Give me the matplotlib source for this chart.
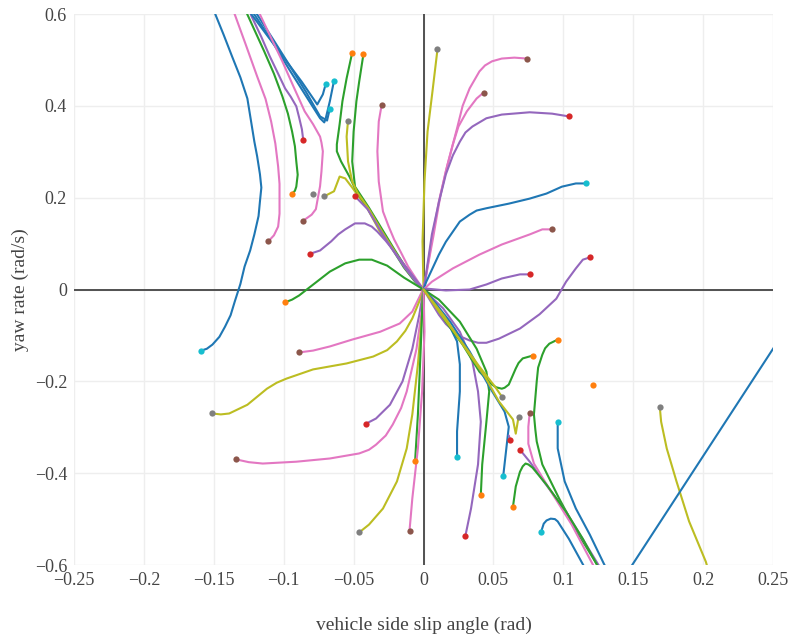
import matplotlib
matplotlib.use("Agg")
import matplotlib.pyplot as plt

# phase portrait: vehicle side slip angle (rad) vs yaw rate (rad/s)
# each trajectory starts at its first point (the marker)

# upper-left
blue_1 = [(-0.159, -0.133), (-0.155, -0.129), (-0.151, -0.120), (-0.146, -0.103), (-0.142, -0.081),
          (-0.138, -0.056), (-0.135, -0.026), (-0.131, 0.012), (-0.128, 0.050), (-0.124, 0.085),
          (-0.121, 0.120), (-0.118, 0.160), (-0.117, 0.192), (-0.116, 0.222), (-0.117, 0.251),
          (-0.119, 0.290), (-0.121, 0.322), (-0.126, 0.416), (-0.131, 0.462), (-0.137, 0.508),
          (-0.143, 0.555), (-0.149, 0.600), (-0.156, 0.650)]
pink_1 = [(-0.111, 0.105), (-0.107, 0.118), (-0.104, 0.137), (-0.103, 0.165), (-0.103, 0.192),
          (-0.103, 0.230), (-0.104, 0.268), (-0.106, 0.318), (-0.109, 0.366), (-0.113, 0.415),
          (-0.119, 0.464), (-0.127, 0.532), (-0.135, 0.599), (-0.140, 0.638)]
green_1 = [(-0.094, 0.209), (-0.092, 0.215), (-0.091, 0.224), (-0.090, 0.250), (-0.091, 0.279),
           (-0.092, 0.312), (-0.094, 0.344), (-0.097, 0.383), (-0.101, 0.421), (-0.107, 0.470),
           (-0.114, 0.519), (-0.126, 0.599), (-0.130, 0.627)]
purple_1 = [(-0.086, 0.325), (-0.087, 0.349), (-0.089, 0.375), (-0.091, 0.399), (-0.095, 0.420),
            (-0.099, 0.438), (-0.104, 0.470), (-0.110, 0.508), (-0.116, 0.550), (-0.123, 0.595),
            (-0.127, 0.627)]
blue_2 = [(-0.070, 0.447), (-0.072, 0.425), (-0.076, 0.403), (-0.087, 0.452), (-0.099, 0.501),
          (-0.111, 0.550), (-0.123, 0.599), (-0.128, 0.621)]
blue_3 = [(-0.064, 0.455), (-0.067, 0.410), (-0.070, 0.372), (-0.071, 0.364), (-0.074, 0.373),
          (-0.085, 0.426), (-0.096, 0.479), (-0.108, 0.539), (-0.121, 0.599), (-0.126, 0.621)]
blue_4 = [(-0.067, 0.394), (-0.069, 0.368), (-0.074, 0.377), (-0.084, 0.430), (-0.095, 0.484),
          (-0.107, 0.542), (-0.119, 0.599), (-0.124, 0.621)]
pink_2 = [(-0.086, 0.150), (-0.080, 0.163), (-0.077, 0.175), (-0.076, 0.192), (-0.074, 0.225),
          (-0.073, 0.257), (-0.072, 0.301), (-0.073, 0.320), (-0.074, 0.333), (-0.079, 0.360),
          (-0.085, 0.388), (-0.093, 0.442), (-0.101, 0.497), (-0.109, 0.548), (-0.117, 0.599),
          (-0.121, 0.621)]
olive_1 = [(-0.071, 0.203), (-0.064, 0.214), (-0.060, 0.246), (-0.056, 0.242), (-0.051, 0.222),
           (-0.040, 0.176), (-0.031, 0.125), (-0.021, 0.084), (-0.013, 0.050), (-0.005, 0.016), (0, 0)]
green_2 = [(-0.051, 0.516), (-0.055, 0.460), (-0.058, 0.410), (-0.060, 0.360), (-0.062, 0.316),
           (-0.062, 0.301), (-0.059, 0.279), (-0.053, 0.246), (-0.048, 0.214), (-0.040, 0.177),
           (-0.031, 0.131), (-0.022, 0.087), (-0.014, 0.048), (-0.006, 0.017), (0, 0)]
green_3 = [(-0.043, 0.512), (-0.046, 0.453), (-0.048, 0.410), (-0.050, 0.344), (-0.051, 0.279),
           (-0.049, 0.224), (-0.039, 0.178), (-0.030, 0.133), (-0.021, 0.088), (-0.013, 0.049),
           (-0.005, 0.018), (0, 0)]
olive_2 = [(-0.054, 0.368), (-0.055, 0.333), (-0.054, 0.279), (-0.051, 0.235), (-0.047, 0.210),
           (-0.039, 0.175), (-0.030, 0.128), (-0.021, 0.085), (-0.013, 0.047), (-0.005, 0.016), (0, 0)]
pink_3 = [(-0.030, 0.401), (-0.032, 0.366), (-0.033, 0.301), (-0.032, 0.235), (-0.029, 0.170),
          (-0.025, 0.138), (-0.021, 0.109), (-0.016, 0.080), (-0.011, 0.050), (-0.005, 0.022), (0, 0)]
purple_2 = [(-0.049, 0.203), (-0.040, 0.175), (-0.031, 0.129), (-0.022, 0.086), (-0.013, 0.046),
            (-0.005, 0.015), (0, 0)]
purple_3 = [(-0.081, 0.078), (-0.074, 0.085), (-0.066, 0.105), (-0.061, 0.120), (-0.056, 0.131),
            (-0.049, 0.144), (-0.042, 0.144), (-0.037, 0.137), (-0.033, 0.126), (-0.027, 0.106),
            (-0.021, 0.083), (-0.010, 0.039), (0, 0)]
green_4 = [(-0.099, -0.028), (-0.094, -0.022), (-0.089, -0.013), (-0.078, 0.013), (-0.067, 0.039),
           (-0.056, 0.057), (-0.046, 0.065), (-0.037, 0.065), (-0.026, 0.052), (-0.014, 0.026), (0, 0)]
olive_3 = [(0.010, 0.523), (0.0064, 0.431), (0.0029, 0.344), (0.0007, 0.235), (-0.0007, 0.105), (0, 0)]

# upper-right
pink_4 = [(0.074, 0.503), (0.065, 0.505), (0.056, 0.503), (0.049, 0.497), (0.044, 0.488),
          (0.040, 0.475), (0.033, 0.438), (0.028, 0.400), (0.024, 0.351), (0.017, 0.270),
          (0.011, 0.192), (0.006, 0.110), (0.002, 0.033), (0, 0)]
pink_5 = [(0.043, 0.429), (0.038, 0.416), (0.031, 0.388), (0.025, 0.355), (0.021, 0.316),
          (0.016, 0.258), (0.012, 0.203), (0.007, 0.115), (0.002, 0.033), (0, 0)]
purple_4 = [(0.104, 0.377), (0.092, 0.383), (0.076, 0.386), (0.056, 0.381), (0.045, 0.373),
            (0.035, 0.355), (0.030, 0.342), (0.026, 0.322), (0.021, 0.292), (0.016, 0.251),
            (0.011, 0.190), (0.006, 0.120), (0.001, 0.017), (0, 0)]
blue_5 = [(0.116, 0.231), (0.109, 0.231), (0.099, 0.224), (0.088, 0.209), (0.076, 0.198),
          (0.061, 0.187), (0.045, 0.177), (0.038, 0.172), (0.033, 0.163), (0.026, 0.148),
          (0.021, 0.126), (0.016, 0.104), (0.011, 0.076), (0.002, 0.017), (0, 0)]
pink_6 = [(0.092, 0.131), (0.085, 0.131), (0.076, 0.120), (0.056, 0.098), (0.040, 0.076),
          (0.021, 0.046), (0.006, 0.017), (0, 0)]
purple_5 = [(0.076, 0.033), (0.069, 0.033), (0.056, 0.024), (0.045, 0.011), (0.033, 0.0),
            (0.016, -0.002), (0.002, 0.002), (0, 0)]
purple_6 = [(0.119, 0.070), (0.114, 0.065), (0.109, 0.046), (0.102, 0.017), (0.095, -0.020),
            (0.083, -0.054), (0.069, -0.085), (0.054, -0.107), (0.045, -0.116), (0.039, -0.116),
            (0.033, -0.111), (0.027, -0.103), (0.022, -0.092), (0.016, -0.075), (0.011, -0.055),
            (0.004, -0.020), (0, 0)]

# lower-left
pink_7 = [(-0.089, -0.137), (-0.079, -0.133), (-0.067, -0.124), (-0.051, -0.109), (-0.031, -0.092),
          (-0.017, -0.074), (-0.008, -0.048), (-0.001, -0.004), (0, 0)]
olive_4 = [(-0.151, -0.270), (-0.145, -0.272), (-0.139, -0.270), (-0.126, -0.251), (-0.112, -0.216),
           (-0.105, -0.203), (-0.098, -0.194), (-0.079, -0.174), (-0.055, -0.161), (-0.036, -0.146),
           (-0.026, -0.132), (-0.019, -0.113), (-0.013, -0.090), (-0.008, -0.063), (-0.001, -0.011), (0, 0)]
purple_7 = [(-0.041, -0.292), (-0.034, -0.281), (-0.024, -0.251), (-0.015, -0.200), (-0.008, -0.129),
            (-0.003, -0.055), (0, 0)]
pink_8 = [(-0.134, -0.370), (-0.125, -0.376), (-0.115, -0.379), (-0.091, -0.375), (-0.067, -0.368),
          (-0.046, -0.357), (-0.039, -0.349), (-0.034, -0.338), (-0.027, -0.318), (-0.022, -0.294),
          (-0.016, -0.258), (-0.012, -0.222), (-0.005, -0.129), (-0.001, -0.041), (0, 0)]
olive_5 = [(-0.046, -0.529), (-0.039, -0.512), (-0.029, -0.477), (-0.019, -0.418), (-0.012, -0.346),
           (-0.008, -0.272), (-0.004, -0.163), (-0.001, -0.055), (0, 0)]
green_5 = [(-0.006, -0.373), (-0.004, -0.272), (-0.002, -0.129), (-0.0007, -0.026), (0, 0)]
pink_9 = [(-0.010, -0.525), (-0.008, -0.455), (-0.004, -0.346), (-0.001, -0.222), (0.0007, -0.092), (0, 0)]

# lower-right
blue_6 = [(0.024, -0.364), (0.024, -0.309), (0.026, -0.222), (0.026, -0.163), (0.024, -0.113),
          (0.016, -0.063), (0.006, -0.020), (0, 0)]
purple_8 = [(0.030, -0.536), (0.034, -0.477), (0.039, -0.381), (0.041, -0.288), (0.039, -0.222),
            (0.035, -0.157), (0.026, -0.092), (0.014, -0.041), (0, 0)]
green_6 = [(0.041, -0.447), (0.042, -0.381), (0.045, -0.288), (0.047, -0.222), (0.045, -0.179),
           (0.038, -0.129), (0.026, -0.070), (0.011, -0.022), (0, 0)]
green_7 = [(0.078, -0.144), (0.071, -0.150), (0.068, -0.160), (0.066, -0.172), (0.061, -0.207),
           (0.058, -0.214), (0.056, -0.216), (0.052, -0.213), (0.049, -0.207), (0.040, -0.179),
           (0.028, -0.120), (0.016, -0.070), (0.004, -0.015), (0, 0)]
blue_7 = [(0.057, -0.407), (0.059, -0.353), (0.061, -0.299), (0.058, -0.266), (0.047, -0.211),
          (0.033, -0.135), (0.019, -0.070), (0.006, -0.020), (0, 0)]
olive_6 = [(0.056, -0.233), (0.051, -0.211), (0.040, -0.168), (0.026, -0.109), (0.011, -0.048), (0, 0)]
olive_7 = [(0.068, -0.277), (0.066, -0.314), (0.064, -0.283), (0.054, -0.244), (0.044, -0.190),
           (0.029, -0.124), (0.015, -0.059), (0, 0)]
purple_9 = [(0.062, -0.327), (0.061, -0.318)]
green_8 = [(0.096, -0.109), (0.090, -0.118), (0.087, -0.128), (0.085, -0.142), (0.082, -0.170),
           (0.081, -0.200), (0.079, -0.272), (0.080, -0.305), (0.081, -0.331), (0.085, -0.381),
           (0.097, -0.455), (0.111, -0.534), (0.126, -0.608), (0.130, -0.630)]
purple_10 = [(0.069, -0.349), (0.076, -0.375), (0.086, -0.418), (0.102, -0.484), (0.115, -0.549),
             (0.126, -0.604), (0.131, -0.632)]
pink_10 = [(0.076, -0.268), (0.075, -0.299), (0.075, -0.336), (0.079, -0.379), (0.090, -0.434),
           (0.106, -0.512), (0.122, -0.604), (0.126, -0.630)]
green_9 = [(0.064, -0.473), (0.066, -0.429), (0.069, -0.397), (0.071, -0.385), (0.073, -0.379),
           (0.075, -0.381), (0.078, -0.388), (0.088, -0.425), (0.102, -0.484), (0.114, -0.543),
           (0.124, -0.599), (0.128, -0.625)]
blue_8 = [(0.096, -0.288), (0.096, -0.346), (0.101, -0.418), (0.109, -0.477), (0.119, -0.534),
          (0.129, -0.597), (0.133, -0.620)]
blue_9 = [(0.084, -0.529), (0.086, -0.510), (0.088, -0.503), (0.091, -0.499), (0.094, -0.500),
          (0.096, -0.505), (0.104, -0.543), (0.115, -0.604), (0.118, -0.625)]
olive_8 = [(0.169, -0.255), (0.170, -0.288), (0.174, -0.346), (0.181, -0.418), (0.190, -0.505),
           (0.202, -0.593), (0.204, -0.614)]
blue_10 = [(0.142, -0.634), (0.255, -0.106)]

# markers without a visible line
lone_gray = [(-0.079, 0.209)]
lone_orange = [(0.121, -0.207)]

line_colors = {"blue": "#1f77b4", "green": "#2ca02c", "purple": "#9467bd",
               "pink": "#e377c2", "olive": "#bcbd22"}
start_colors = {"blue": "#17becf", "green": "#ff7f0e", "purple": "#d62728",
                "pink": "#8c564b", "olive": "#7f7f7f"}

# (line colour, points, has start marker)
trajectories = [
    ("blue", blue_1, True), ("pink", pink_1, True), ("green", green_1, True), ("purple", purple_1, True),
    ("blue", blue_2, True), ("blue", blue_3, True), ("blue", blue_4, True), ("pink", pink_2, True),
    ("olive", olive_1, True), ("green", green_2, True), ("green", green_3, True), ("olive", olive_2, True),
    ("pink", pink_3, True), ("purple", purple_2, True), ("purple", purple_3, True), ("green", green_4, True),
    ("olive", olive_3, True), ("pink", pink_4, True), ("pink", pink_5, True), ("purple", purple_4, True),
    ("blue", blue_5, True), ("pink", pink_6, True), ("purple", purple_5, True), ("purple", purple_6, True),
    ("pink", pink_7, True), ("olive", olive_4, True), ("purple", purple_7, True), ("pink", pink_8, True),
    ("olive", olive_5, True), ("green", green_5, True), ("pink", pink_9, True), ("blue", blue_6, True),
    ("purple", purple_8, True), ("green", green_6, True), ("green", green_7, True), ("blue", blue_7, True),
    ("olive", olive_6, True), ("olive", olive_7, True), ("purple", purple_9, True), ("green", green_8, True),
    ("purple", purple_10, True), ("pink", pink_10, True), ("green", green_9, True), ("blue", blue_8, True),
    ("blue", blue_9, True), ("olive", olive_8, True), ("blue", blue_10, False),
]

x_ticks = [-0.25, -0.2, -0.15, -0.1, -0.05, 0, 0.05, 0.1, 0.15, 0.2, 0.25]
y_ticks = [-0.6, -0.4, -0.2, 0, 0.2, 0.4, 0.6]


def fmt(v):
    if v == 0:
        return "0"
    s = ("%.2f" % abs(v)).rstrip("0")
    return ("\u2212" if v < 0 else "") + s


plt.rcParams["font.family"] = ["Liberation Serif", "DejaVu Serif"]

fig = plt.figure(figsize=(7.91, 6.37), dpi=100)
ax = fig.add_axes([0.0936, 0.113, 0.8836, 0.865])

for v in x_ticks:
    ax.axvline(v, color="#eeeeee", lw=1, zorder=0)
for v in y_ticks:
    ax.axhline(v, color="#eeeeee", lw=1, zorder=0)
ax.axhline(0, color="#444444", lw=1.3, zorder=1)
ax.axvline(0, color="#444444", lw=1.3, zorder=1)

for kind, pts, _ in trajectories:
    xs = [p[0] for p in pts]
    ys = [p[1] for p in pts]
    ax.plot(xs, ys, color=line_colors[kind], lw=1.5, zorder=2,
            solid_capstyle="round", solid_joinstyle="round")
for kind, pts, has_marker in trajectories:
    if has_marker:
        ax.plot(pts[0][0], pts[0][1], "o", color=start_colors[kind], ms=4.5, zorder=3, mew=0)
for x, y in lone_gray:
    ax.plot(x, y, "o", color=start_colors["olive"], ms=4.5, zorder=3, mew=0)
for x, y in lone_orange:
    ax.plot(x, y, "o", color=start_colors["green"], ms=4.5, zorder=3, mew=0)

ax.set_xlim(-0.25, 0.25)
ax.set_ylim(-0.6, 0.6)
ax.set_xticks(x_ticks)
ax.set_xticklabels([fmt(v) for v in x_ticks])
ax.set_yticks(y_ticks)
ax.set_yticklabels([fmt(v) for v in y_ticks])
ax.tick_params(length=0, labelsize=13, labelcolor="#444444", pad=5)
for s in ax.spines.values():
    s.set_visible(False)

ax.set_xlabel("vehicle side slip angle (rad)", fontsize=14, color="#444444", labelpad=20)
ax.set_ylabel("yaw rate (rad/s)", fontsize=14, color="#444444", labelpad=4)

fig.savefig("out.png", dpi=100)
